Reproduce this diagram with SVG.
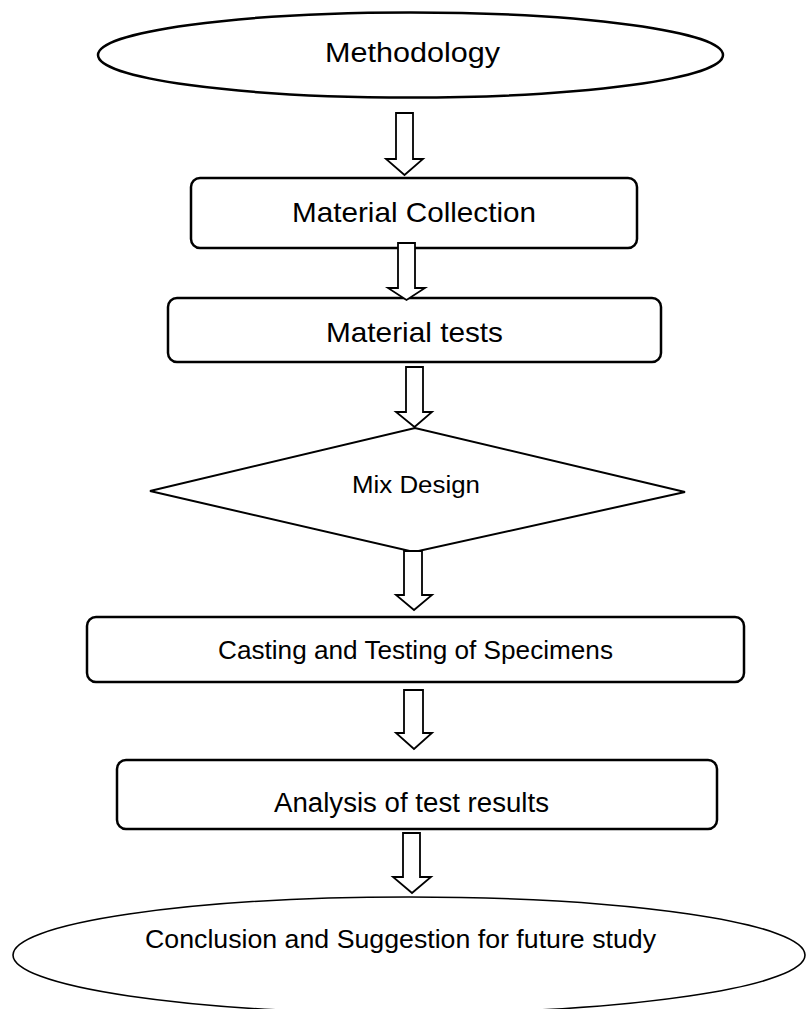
<svg xmlns="http://www.w3.org/2000/svg" width="806" height="1009" viewBox="0 0 806 1009">
<style>
.shape{fill:#fff;stroke:#000;stroke-width:2.5}
.thin{fill:#fff;stroke:#000;stroke-width:1.6}
.arrow{fill:#fff;stroke:#000;stroke-width:1.8;stroke-linejoin:miter}
.lbl{font-family:"Liberation Sans",Arial,sans-serif;fill:#000;text-anchor:middle}
</style>
<rect width="806" height="1009" fill="#fff"/>
<g id="node-methodology">
<ellipse class="shape" cx="410.5" cy="55" rx="312.5" ry="42.5"/>
<text class="lbl" x="412.5" y="62" font-size="27" textLength="175" lengthAdjust="spacingAndGlyphs">Methodology</text>
</g>
<g id="node-collection">
<rect class="shape" x="191" y="178" width="446" height="70" rx="9"/>
<text class="lbl" x="414" y="222" font-size="28" textLength="244" lengthAdjust="spacingAndGlyphs">Material Collection</text>
</g>
<g id="node-tests">
<rect class="shape" x="168" y="298" width="493" height="64" rx="9"/>
<text class="lbl" x="414.5" y="342" font-size="28" textLength="177" lengthAdjust="spacingAndGlyphs">Material tests</text>
</g>
<g id="node-mix">
<polygon class="shape" style="stroke-width:2" points="150,491 415,428 685,492 414,552"/>
<text class="lbl" x="416" y="493" font-size="23" textLength="128" lengthAdjust="spacingAndGlyphs">Mix Design</text>
</g>
<g id="node-casting">
<rect class="shape" x="87" y="617" width="657" height="65" rx="9"/>
<text class="lbl" x="415.5" y="659" font-size="25" textLength="395" lengthAdjust="spacingAndGlyphs">Casting and Testing of Specimens</text>
</g>
<g id="node-analysis">
<rect class="shape" x="117" y="760" width="600" height="69" rx="9"/>
<text class="lbl" x="411.5" y="812" font-size="27" textLength="275" lengthAdjust="spacingAndGlyphs">Analysis of test results</text>
</g>
<g id="node-conclusion">
<ellipse class="thin" cx="409" cy="955" rx="396" ry="58"/>
<text class="lbl" x="400.5" y="948" font-size="25.5" textLength="511" lengthAdjust="spacingAndGlyphs">Conclusion and Suggestion for future study</text>
</g>
<g id="connectors">
<polygon class="arrow" points="396,113 413,113 413,159 423,159 404.5,175 386,159 396,159"/>
<polygon class="arrow" points="398,243 415,243 415,288 425,288 406.5,300 388,288 398,288"/>
<polygon class="arrow" points="406,367 423,367 423,412 432,412 414.5,427 396,412 406,412"/>
<polygon class="arrow" points="404,551 422,551 422,595 432,595 414,610 396,595 404,595"/>
<polygon class="arrow" points="404,690 423,690 423,733 432,733 414,749 396,733 404,733"/>
<polygon class="arrow" points="403,833 420,833 420,877 431,877 412,893 393,877 403,877"/>
</g>
</svg>
